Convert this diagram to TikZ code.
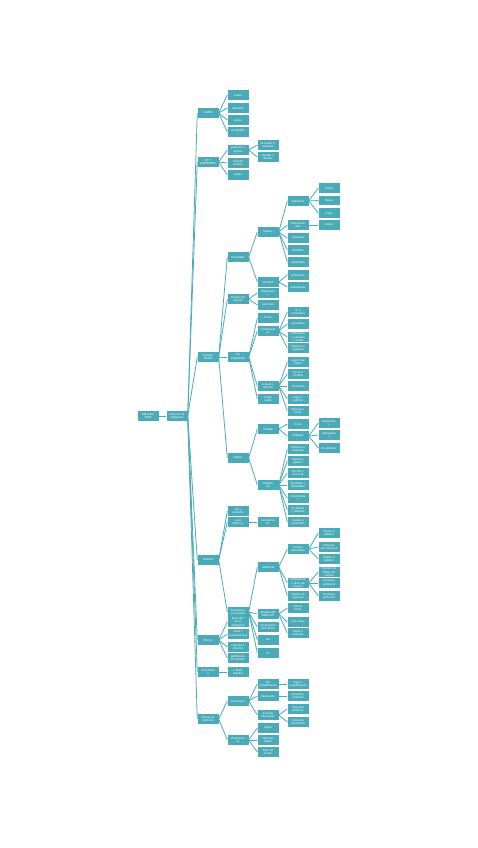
\documentclass[tikz,border=0pt]{standalone}
\usepackage{fontspec}
\setmainfont{Carlito}
\definecolor{teal1}{HTML}{4BAAB8}
\tikzset{
  box/.style={rectangle, fill=teal1, text=white, minimum width=21pt, minimum height=9.5pt,
    text width=19.5pt, align=center, inner sep=0.6pt, font=\fontsize{3.1}{3.5}\selectfont},
  conn/.style={draw=teal1, line width=0.8pt}
}
\begin{document}
\begin{tikzpicture}[x=1pt,y=-1pt]
\useasboundingbox (0,0) rectangle (477,848);
% root
\node[box] (root) at (148,416) {OBLIGACI\\ONES};
\node[box] (der) at (177,416) {Derecho de\\obligación};
% level 1
\node[box] (clases) at (208,113) {CLASES};
\node[box] (elem) at (208,162) {LEY Y\\ELEMENTOS};
\node[box] (clasif) at (208,357) {CLASIFIC\\ACIÓN};
\node[box] (fuentes) at (208,560) {Fuentes};
\node[box] (efectos) at (208,640) {Efectos};
\node[box] (trans) at (208,672) {Transmisió\\n};
\node[box] (causas) at (208,719) {Causas de\\extinción};
% CLASES
\node[box] (c1) at (238,95) {reales};
\node[box] (c2) at (238,108) {naturales};
\node[box] (c3) at (238,120) {civiles};
\node[box] (c4) at (238,132) {mercantile\\s};
% elementos
\node[box] (e1) at (238,150) {personas o\\sujetos};
\node[box] (e1a) at (268,145) {Acreedor o\\acreedor};
\node[box] (e1b) at (268,157) {Deudor o\\deudor};
\node[box] (e2) at (238,163) {relación\\jurídica};
\node[box] (e3) at (238,175) {objeto};
% clasificacion
\node[box] (plur) at (238,257) {Pluralidad};
\node[box] (fv) at (238,299) {Fuente del\\vínculo};
\node[box] (exig) at (238,357) {Por\\exigibilidad};
\node[box] (obj) at (238,458) {Objeto};
\node[box] (suj) at (268,232) {Sujetos};
\node[box] (vin) at (268,282) {Vínculos};
\node[box] (sol) at (298,201) {Solidarias};
\node[box] (act) at (329,188) {Activa};
\node[box] (pas) at (329,200.5) {Pasiva};
\node[box] (mix) at (329,213) {mixta};
\node[box] (man) at (298,225) {Mancomun\\adas};
\node[box] (simp) at (329,225) {simple};
\node[box] (parc) at (298,238) {parciarias};
\node[box] (div) at (298,250) {divisibles};
\node[box] (indiv) at (298,262) {indivisibles};
\node[box] (bil) at (298,275) {bilaterales};
\node[box] (uni) at (298,287) {unilaterales};
\node[box] (imp) at (268,293) {Imperfecta\\s};
\node[box] (perf) at (268,305) {perfectas};
\node[box] (pur) at (268,318) {Puras};
\node[box] (cond) at (268,331) {Condicional\\es};
\node[box] (plazo) at (268,386) {A plazo o\\término};
\node[box] (carga) at (268,399) {Carga\\modo};
\node[box] (co1) at (298,312) {S. o\\resolutoria};
\node[box] (co2) at (298,324) {Imposibles};
\node[box] (co3) at (298,337) {Potestativa\\s, casuales\\o mixtas};
\node[box] (co4) at (298,348) {Positivas o\\negativas};
\node[box] (pl1) at (298,362) {Legal o de\\hecho};
\node[box] (pl2) at (298,374) {Cierto o\\incierto};
\node[box] (pl3) at (298,386) {voluntario};
\node[box] (pl4) at (298,399) {Legal o\\judicial};
\node[box] (pl5) at (298,411) {Expreso o\\tácito};
\node[box] (unid) at (268,429) {Unidad};
\node[box] (unica) at (298,424) {Única};
\node[box] (mult) at (298,436) {Múltiple};
\node[box] (conj) at (329,423) {Conjuntiva\\s};
\node[box] (alt) at (329,435) {Alternativa\\s};
\node[box] (fac) at (329,448) {Facultativas};
\node[box] (opl) at (268,485) {Pluralid\\ad};
\node[box] (o1) at (298,449) {Positivas o\\negativas};
\node[box] (o2) at (298,461) {Especie y\\género};
\node[box] (o3) at (298,473) {De dar y\\de hacer};
\node[box] (o4) at (298,485) {Divisibles e\\indivisibles};
\node[box] (o5) at (298,498) {Instantánea\\s};
\node[box] (o6) at (298,510) {Periódicas\\y diferidas};
\node[box] (o7) at (298,522) {Medios y\\resultados};
% fuentes
\node[box] (f1) at (238,511) {ley y\\contratos};
\node[box] (f2) at (238,522) {cuasi\\delitos y};
\node[box] (f2a) at (268,522) {contractua\\les};
\node[box] (f3) at (238,612) {Declaracion\\es actuales};
\node[box] (fu) at (268,567) {Unilateral};
\node[box] (fu1) at (298,549) {Formas\\declaradas};
\node[box] (fu1a) at (329,533) {Oferta al\\público};
\node[box] (fu1b) at (329,547) {Concurso\\con promesa};
\node[box] (fu1c) at (329,559) {Orden al\\público};
\node[box] (fu2) at (298,583) {Estipulación\\a favor de\\tercero};
\node[box] (fu2a) at (329,572) {Emisión de\\títulos de\\crédito};
\node[box] (fu2b) at (329,583) {promesa\\unilateral};
\node[box] (fu2c) at (329,596) {Promesa\\abstracta};
\node[box] (fu3) at (298,596) {Gestión de\\negocios};
\node[box] (fr) at (268,614) {Responsabi\\lidad civil};
\node[box] (fr1) at (298,608) {Hecho\\ilícito};
\node[box] (fr2) at (298,622) {Del riesgo};
\node[box] (fr3) at (298,633) {Moral o\\material};
\node[box] (fe) at (268,627) {Enriquecimi\\ento ilícito};
\node[box] (fl) at (268,640) {Ley};
\node[box] (fx) at (268,653) {Ex};
% efectos
\node[box] (ef1) at (238,622) {Ejecución\\de la\\obligación};
\node[box] (ef2) at (238,634) {mora y\\consecuencias};
\node[box] (ef3) at (238,647) {relación a\\terceros};
\node[box] (ef4) at (238,658) {patrimonio\\del deudor};
\node[box] (tr1) at (238,672) {a título\\singular};
% causas
\node[box] (vol) at (238,701) {Voluntarias};
\node[box] (v1) at (268,684) {Por\\cumplimiento};
\node[box] (v1a) at (298,684) {Pago o\\cumplimiento};
\node[box] (v2) at (268,696) {Resolución};
\node[box] (v2a) at (298,696) {Novación,\\remisión};
\node[box] (v3) at (268,715) {Acuerdo\\liberatorio};
\node[box] (v3a) at (298,709) {Convenio\\posterior};
\node[box] (v3b) at (298,722) {Convenio\\simultáneo};
\node[box] (inv) at (238,740) {Involuntari\\as};
\node[box] (i1) at (268,728) {Sujeto};
\node[box] (i2) at (268,740) {Falta del\\objeto};
\node[box] (i3) at (268,752) {Falta de\\acción};
% connectors
\foreach \a/\b in {root/der,
  der/clases,der/elem,der/clasif,der/fuentes,der/efectos,der/trans,der/causas,
  clases/c1,clases/c2,clases/c3,clases/c4,
  elem/e1,elem/e2,elem/e3,e1/e1a,e1/e1b,
  clasif/plur,clasif/fv,clasif/exig,clasif/obj,
  plur/suj,plur/vin,suj/sol,suj/man,suj/parc,suj/div,suj/indiv,
  sol/act,sol/pas,sol/mix,man/simp,vin/bil,vin/uni,
  fv/imp,fv/perf,exig/pur,exig/cond,exig/plazo,exig/carga,
  cond/co1,cond/co2,cond/co3,cond/co4,
  plazo/pl1,plazo/pl2,plazo/pl3,plazo/pl4,plazo/pl5,
  obj/unid,obj/opl,unid/unica,unid/mult,mult/conj,mult/alt,mult/fac,
  opl/o1,opl/o2,opl/o3,opl/o4,opl/o5,opl/o6,opl/o7,
  fuentes/f1,fuentes/f2,fuentes/f3,f2/f2a,
  f3/fu,f3/fr,f3/fe,f3/fl,f3/fx,
  fu/fu1,fu/fu2,fu/fu3,fu1/fu1a,fu1/fu1b,fu1/fu1c,fu2/fu2a,fu2/fu2b,fu2/fu2c,
  fr/fr1,fr/fr2,fr/fr3,
  efectos/ef1,efectos/ef2,efectos/ef3,efectos/ef4,trans/tr1,
  causas/vol,causas/inv,vol/v1,vol/v2,vol/v3,v1/v1a,v2/v2a,v3/v3a,v3/v3b,
  inv/i1,inv/i2,inv/i3}
  \draw[conn] (\a.east) -- (\b.west);
\end{tikzpicture}
\end{document}
